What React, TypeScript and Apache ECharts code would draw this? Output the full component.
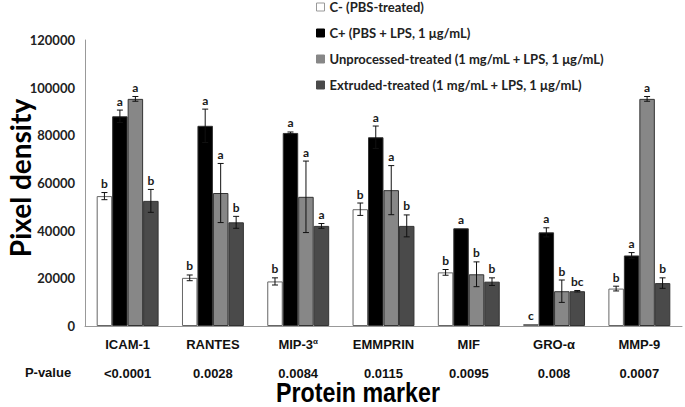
import React, { useEffect, useRef } from "react";
import * as echarts from "echarts";

const categories = ["ICAM-1", "RANTES", "MIP-3α", "EMMPRIN", "MIF", "GRO-α", "MMP-9"];
const pValues = ["<0.0001", "0.0028", "0.0084", "0.0115", "0.0095", "0.008", "0.0007"];
const seriesNames = [
  "C- (PBS-treated)",
  "C+ (PBS + LPS, 1 μg/mL)",
  "Unprocessed-treated (1 mg/mL + LPS, 1 μg/mL)",
  "Extruded-treated (1 mg/mL + LPS, 1 μg/mL)",
];
const cNeg = [54500, 20200, 18700, 49000, 22500, 800, 15700];
const cNegErr = [1500, 1200, 1500, 2600, 1200, 0, 1000];
const cNegLetters = ["b", "b", "b", "b", "b", "c", "b"];
const cPos = [88000, 84000, 81000, 79200, 41000, 39300, 29600];
const cPosErr = [2600, 7000, 400, 4700, 0, 1900, 1200];
const cPosLetters = ["a", "a", "a", "a", "a", "a", "a"];
const unproc = [95300, 55800, 54200, 57000, 21700, 14600, 95300];
const unprocErr = [1000, 12400, 15000, 10300, 5200, 4700, 1000];
const unprocLetters = ["a", "a", "a", "a", "b", "b", "a"];
const extruded = [52500, 43500, 42000, 42000, 18600, 14600, 18000];
const extrudedErr = [4800, 2500, 1000, 4600, 1600, 300, 2200];
const extrudedLetters = ["b", "b", "a", "b", "b", "bc", "b"];
const yTicks = { min: 0, max: 120000, interval: 20000 };

const colors = ["#ffffff", "#000000", "#878787", "#4a4a4a"];
const GAP = 0.274;
const NARROW = "'Liberation Sans Narrow', 'Arial Narrow', 'Liberation Sans', Arial, sans-serif";
const CAL = "Lato, 'Open Sans', sans-serif";

export default function App() {
  const ref = useRef<HTMLDivElement>(null);
  useEffect(() => {
    document.body.style.margin = "0";
    if (!ref.current) return;
    const chart = echarts.init(ref.current, undefined, { renderer: "svg" });
    const values = [cNeg, cPos, unproc, extruded];
    const errs = [cNegErr, cPosErr, unprocErr, extrudedErr];
    const letters = [cNegLetters, cPosLetters, unprocLetters, extrudedLetters];

    const bars = seriesNames.map((name, s) => ({
      type: "bar",
      name,
      data: values[s],
      barGap: "0%",
      barCategoryGap: GAP * 100 + "%",
      itemStyle: { color: colors[s], borderColor: s === 0 ? "#666" : "#333", borderWidth: 1 },
      z: 2,
    }));

    const customs = seriesNames.map((name, s) => ({
      type: "custom",
      name: name + " err",
      data: categories.map((_, i) => [i, values[s][i], errs[s][i]]),
      z: 5,
      silent: true,
      renderItem: (params: any, api: any) => {
        const ci = api.value(0);
        const v = api.value(1);
        const e = api.value(2);
        const catW = api.size([1, 0])[0];
        const bw = (catW * (1 - GAP)) / 4;
        const x = api.coord([ci, 0])[0] + (s - 1.5) * bw;
        const yT = api.coord([ci, v + e])[1];
        const yB = api.coord([ci, v - e])[1];
        const st = { stroke: "#111", lineWidth: 1 };
        const children: any[] = [];
        if (e > 0) {
          children.push({ type: "line", shape: { x1: x, y1: yT, x2: x, y2: yB }, style: st });
          children.push({ type: "line", shape: { x1: x - 3, y1: yT, x2: x + 3, y2: yT }, style: st });
          children.push({ type: "line", shape: { x1: x - 3, y1: yB, x2: x + 3, y2: yB }, style: st });
        }
        children.push({
          type: "text",
          style: {
            text: letters[s][params.dataIndex],
            x,
            y: yT - 3,
            textAlign: "center",
            textVerticalAlign: "bottom",
            fill: "#1a1a1a",
            font: "bold 12px " + CAL,
          },
        });
        return { type: "group", children };
      },
    }));

    chart.setOption({
      animation: false,
      grid: { left: 85, right: 3, top: 40, bottom: 81 },
      legend: {
        orient: "vertical",
        left: 316,
        top: 0,
        padding: 0,
        itemWidth: 8,
        itemHeight: 8,
        itemGap: 12,
        icon: "rect",
        textStyle: { fontFamily: CAL, fontWeight: "bold", fontSize: 13, color: "#222", lineHeight: 14 },
        data: seriesNames.map((n, s) => ({
          name: n,
          itemStyle: { color: colors[s], borderColor: s === 0 ? "#999" : colors[s], borderWidth: 1 },
        })),
      },
      xAxis: {
        type: "category",
        data: categories,
        axisLine: { lineStyle: { color: "#999", width: 1 } },
        axisTick: { show: false },
        axisLabel: {
          interval: 0,
          margin: 11,
          formatter: (val: string, idx: number) => {
            let lab = `{c|${val}}`;
            if (val.startsWith("MIP-3")) lab = `{c|MIP-3}{s|α}`;
            return `${lab}\n{p|${pValues[idx]}}`;
          },
          rich: {
            c: { fontFamily: NARROW, fontWeight: "bold", fontSize: 13, color: "#111", lineHeight: 14 },
            s: { fontFamily: NARROW, fontWeight: "bold", fontSize: 8, color: "#111", lineHeight: 14, verticalAlign: "top" },
            p: { fontFamily: NARROW, fontWeight: "bold", fontSize: 13, color: "#111", lineHeight: 44 },
          },
        },
      },
      yAxis: {
        type: "value",
        min: yTicks.min,
        max: yTicks.max,
        interval: yTicks.interval,
        splitLine: { show: false },
        axisLine: { show: true, lineStyle: { color: "#999" } },
        axisTick: { show: false },
        axisLabel: {
          fontFamily: CAL,
          fontWeight: "bold",
          fontSize: 13,
          color: "#222",
          margin: 10,
          formatter: (v: number) => String(v),
        },
      },
      graphic: [
        {
          type: "text",
          x: 20,
          y: 178,
          rotation: Math.PI / 2,
          style: {
            text: "Pixel density",
            textAlign: "center",
            textVerticalAlign: "middle",
            font: "bold 28px " + CAL,
            fill: "#000",
          },
        },
        {
          type: "text",
          x: 358,
          y: 392,
          scaleX: 0.86,
          style: {
            text: "Protein marker",
            textAlign: "center",
            textVerticalAlign: "middle",
            font: "bold 27px " + NARROW,
            fill: "#000",
          },
        },
        {
          type: "text",
          x: 48,
          y: 372,
          style: {
            text: "P-value",
            textAlign: "center",
            textVerticalAlign: "middle",
            font: "bold 13px " + NARROW,
            fill: "#111",
          },
        },
      ],
      series: [...bars, ...customs],
    });
    return () => chart.dispose();
  }, []);
  return <div ref={ref} style={{ width: 685, height: 407 }} />;
}
